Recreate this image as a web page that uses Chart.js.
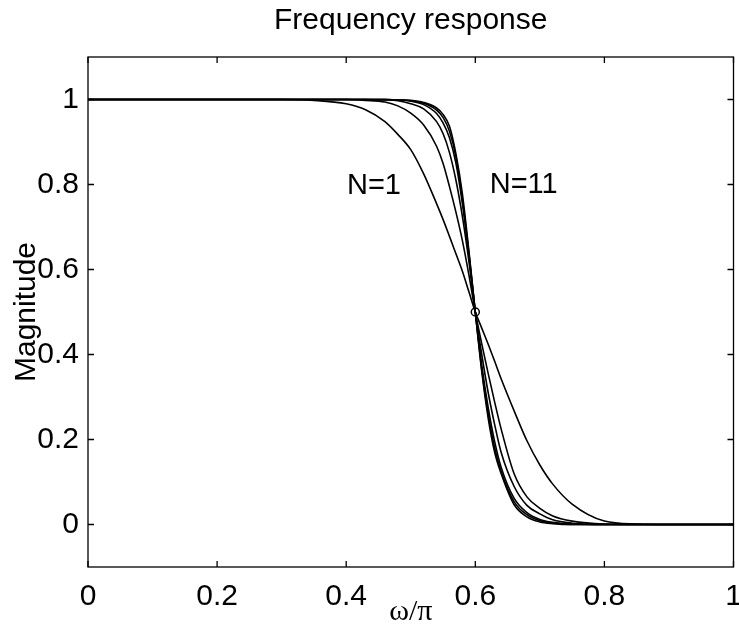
<!DOCTYPE html>
<html>
<head>
<meta charset="utf-8">
<script src="https://cdn.jsdelivr.net/npm/chart.js@4/dist/chart.umd.min.js"></script>
<style>
  html, body { margin: 0; padding: 0; background: #fff; }
  #wrap { width: 739px; height: 632px; position: relative; }
</style>
</head>
<body>
<div id="wrap"><canvas id="chart"></canvas></div>
<script>
// frequency axis (omega / pi)
const omega = [0, 0.1, 0.2, 0.3, 0.35, 0.4, 0.43, 0.46, 0.48, 0.5, 0.52, 0.54, 0.55, 0.56, 0.57, 0.58, 0.59, 0.6, 0.61, 0.62, 0.63, 0.64, 0.66, 0.68, 0.7, 0.72, 0.75, 0.8, 0.85, 0.9, 1.0]

// magnitude, one array per filter order
const magN1 = [1, 1, 1, 1, 0.998, 0.99, 0.976, 0.948, 0.918, 0.882, 0.825, 0.755, 0.718, 0.678, 0.637, 0.596, 0.548, 0.5, 0.462, 0.424, 0.384, 0.343, 0.268, 0.197, 0.14, 0.095, 0.048, 0.008, 0.001, 0, 0]
const magN3 = [1, 1, 1, 1, 1, 1, 0.998, 0.994, 0.985, 0.968, 0.94, 0.89, 0.85, 0.795, 0.735, 0.668, 0.588, 0.5, 0.425, 0.355, 0.288, 0.225, 0.12, 0.065, 0.038, 0.02, 0.008, 0.001, 0, 0, 0]
const magN5 = [1, 1, 1, 1, 1, 1, 1, 0.999, 0.997, 0.99, 0.978, 0.948, 0.92, 0.875, 0.81, 0.725, 0.62, 0.5, 0.4, 0.31, 0.235, 0.17, 0.09, 0.045, 0.025, 0.011, 0.003, 0, 0, 0, 0]
const magN7 = [1, 1, 1, 1, 1, 1, 1, 1, 0.999, 0.996, 0.988, 0.967, 0.945, 0.91, 0.85, 0.755, 0.635, 0.5, 0.375, 0.275, 0.195, 0.135, 0.062, 0.028, 0.012, 0.005, 0.001, 0, 0, 0, 0]
const magN9 = [1, 1, 1, 1, 1, 1, 1, 1, 0.999, 0.997, 0.991, 0.975, 0.958, 0.925, 0.865, 0.765, 0.64, 0.5, 0.365, 0.26, 0.18, 0.125, 0.054, 0.023, 0.009, 0.004, 0, 0, 0, 0, 0]
const magN11 = [1, 1, 1, 1, 1, 1, 1, 1, 0.999, 0.998, 0.993, 0.98, 0.965, 0.937, 0.872, 0.778, 0.645, 0.5, 0.36, 0.25, 0.17, 0.12, 0.047, 0.018, 0.006, 0.002, 0, 0, 0, 0, 0]

const curves = [magN1, magN3, magN5, magN7, magN9, magN11]
const curveNames = ['N=1', 'N=3', 'N=5', 'N=7', 'N=9', 'N=11']

// common crossing point marked with a small circle
const crossX = [0.6]
const crossY = [0.5]

// text labels in the plot
const labelText = ['N=1', 'N=11']
const labelX = [0.443, 0.675]
const labelY = [0.797, 0.798]

const xTicks = [0, 0.2, 0.4, 0.6, 0.8, 1]
const yTicks = [0, 0.2, 0.4, 0.6, 0.8, 1]

const FONT = "'Liberation Sans', Arial, Helvetica, sans-serif"

const datasets = curves.map((mags, i) => ({
  label: curveNames[i],
  data: omega.map((w, j) => ({ x: w, y: mags[j] })),
  borderColor: '#000',
  borderWidth: 1.6,
  pointRadius: 0,
  fill: false,
  cubicInterpolationMode: 'monotone',
}))

datasets.push({
  label: 'crossing',
  type: 'scatter',
  data: crossX.map((x, i) => ({ x: x, y: crossY[i] })),
  pointRadius: 4,
  pointBorderWidth: 1.5,
  pointBorderColor: '#000',
  pointBackgroundColor: 'rgba(255,255,255,0)',
  showLine: false,
})

// box round the plot, inward ticks on all four sides, and the N= labels
const matlabFrame = {
  id: 'matlabFrame',
  afterDatasetsDraw(chart) {
    const { ctx, chartArea: a, scales } = chart
    const tl = 6
    ctx.save()
    ctx.strokeStyle = '#000'
    ctx.lineWidth = 1.3
    ctx.strokeRect(a.left, a.top, a.right - a.left, a.bottom - a.top)
    ctx.beginPath()
    xTicks.forEach((v) => {
      const px = scales.x.getPixelForValue(v)
      ctx.moveTo(px, a.bottom)
      ctx.lineTo(px, a.bottom - tl)
      ctx.moveTo(px, a.top)
      ctx.lineTo(px, a.top + tl)
    })
    yTicks.forEach((v) => {
      const py = scales.y.getPixelForValue(v)
      ctx.moveTo(a.left, py)
      ctx.lineTo(a.left + tl, py)
      ctx.moveTo(a.right, py)
      ctx.lineTo(a.right - tl, py)
    })
    ctx.stroke()

    ctx.fillStyle = '#000'
    ctx.font = '29px ' + FONT
    ctx.textAlign = 'center'
    ctx.textBaseline = 'middle'
    labelText.forEach((t, i) => {
      ctx.fillText(t, scales.x.getPixelForValue(labelX[i]), scales.y.getPixelForValue(labelY[i]))
    })
    ctx.restore()
  },
}

new Chart(document.getElementById('chart'), {
  type: 'line',
  data: { datasets: datasets },
  plugins: [matlabFrame],
  options: {
    responsive: true,
    maintainAspectRatio: false,
    animation: false,
    layout: { padding: { top: 0, right: 1, bottom: 0, left: 0 } },
    plugins: {
      legend: { display: false },
      tooltip: { enabled: false },
      title: {
        display: true,
        text: 'Frequency response',
        fullSize: false,
        color: '#000',
        font: { family: FONT, size: 30, weight: 'normal' },
        padding: { top: 3, bottom: 18 },
      },
    },
    scales: {
      x: {
        type: 'linear',
        min: 0,
        max: 1,
        afterBuildTicks: (scale) => {
          scale.ticks = xTicks.map((v) => ({ value: v }))
        },
        afterFit: (scale) => {
          scale.height = 65
          scale.paddingLeft = 0
          scale.paddingRight = 0
        },
        grid: { display: false, drawTicks: false },
        border: { display: false },
        ticks: {
          color: '#000',
          padding: 12,
          maxRotation: 0,
          font: { family: FONT, size: 30 },
          callback: (v) => String(v),
        },
        title: {
          display: true,
          text: 'ω/π',
          color: '#000',
          font: { family: "'Liberation Serif', 'Times New Roman', serif", size: 30 },
          padding: { top: 0, bottom: 2 },
        },
      },
      y: {
        type: 'linear',
        min: -0.1,
        max: 1.1,
        afterBuildTicks: (scale) => {
          scale.ticks = yTicks.map((v) => ({ value: v }))
        },
        afterFit: (scale) => {
          scale.width = 88
          scale.paddingTop = 0
          scale.paddingBottom = 0
        },
        grid: { display: false, drawTicks: false },
        border: { display: false },
        ticks: {
          color: '#000',
          padding: 9,
          font: { family: FONT, size: 30 },
          callback: (v) => String(v),
        },
        title: {
          display: true,
          text: 'Magnitude',
          color: '#000',
          font: { family: FONT, size: 30 },
          padding: { top: 9, bottom: 0 },
        },
      },
    },
  },
})
</script>
</body>
</html>
